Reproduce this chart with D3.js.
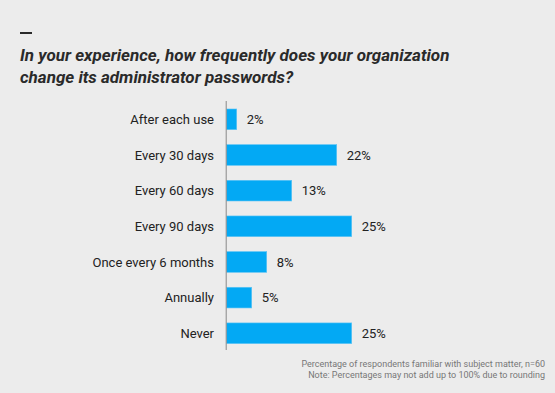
<!DOCTYPE html>
<html>
<head>
<meta charset="utf-8">
<script src="https://cdn.jsdelivr.net/npm/d3@7"></script>
<style>
  html, body { margin: 0; padding: 0; background: #ececec; }
  svg { display: block; font-family: Roboto, "Noto Sans", sans-serif; }
</style>
</head>
<body>
<div id="view"></div>
<script>
var width = 555, height = 393;

var categories = ["After each use", "Every 30 days", "Every 60 days", "Every 90 days",
                  "Once every 6 months", "Annually", "Never"];
var values = [2, 22, 13, 25, 8, 5, 25];
var titleLines = ["In your experience, how frequently does your organization",
                  "change its administrator passwords?"];
var notes = ["Percentage of respondents familiar with subject matter, n=60",
             "Note: Percentages may not add up to 100% due to rounding"];

var svg = d3.select("#view").append("svg")
  .attr("width", width)
  .attr("height", height);

svg.append("rect").attr("width", width).attr("height", height).attr("fill", "#ececec");

// small dash above title
svg.append("rect").attr("x", 20).attr("y", 32).attr("width", 12).attr("height", 2).attr("fill", "#2a2a2a");

svg.selectAll(".title")
  .data(titleLines).enter()
  .append("text")
  .attr("class", "title")
  .attr("x", 20)
  .attr("y", function(d, i) { return 61 + i * 22; })
  .style("font-size", "17px")
  .style("font-weight", "bold")
  .style("font-style", "italic")
  .style("fill", "#2a2a2a")
  .text(function(d) { return d; });

var x0 = 226.7;
var x = d3.scaleLinear().domain([0, 25]).range([x0, x0 + 125]);
var y = d3.scaleBand().domain(categories).range([101.5, 351.1])
  .paddingInner(0.42).paddingOuter(0.21);

svg.selectAll(".bar")
  .data(values).enter()
  .append("rect")
  .attr("class", "bar")
  .attr("x", x(0))
  .attr("y", function(d, i) { return y(categories[i]); })
  .attr("width", function(d) { return x(d) - x(0); })
  .attr("height", y.bandwidth())
  .style("fill", "#03a9f4")
  .style("stroke", "#5cc4f5")
  .style("stroke-width", 0.6);

svg.selectAll(".val")
  .data(values).enter()
  .append("text")
  .attr("class", "val")
  .attr("x", function(d) { return x(d) + 10; })
  .attr("y", function(d, i) { return y(categories[i]) + y.bandwidth() / 2; })
  .attr("dy", "0.35em")
  .style("font-size", "13px")
  .style("fill", "#222")
  .text(function(d) { return d + "%"; });

svg.selectAll(".cat")
  .data(categories).enter()
  .append("text")
  .attr("class", "cat")
  .attr("x", 214)
  .attr("y", function(d) { return y(d) + y.bandwidth() / 2; })
  .attr("dy", "0.35em")
  .attr("text-anchor", "end")
  .style("font-size", "13px")
  .style("fill", "#222")
  .text(function(d) { return d; });

// axis line
svg.append("line")
  .attr("x1", x0 - 0.5).attr("x2", x0 - 0.5)
  .attr("y1", 101).attr("y2", 350)
  .style("stroke", "#888")
  .style("stroke-width", 1);

svg.selectAll(".note")
  .data(notes).enter()
  .append("text")
  .attr("class", "note")
  .attr("x", 545)
  .attr("y", function(d, i) { return 367 + i * 11; })
  .attr("text-anchor", "end")
  .style("font-size", "9px")
  .style("fill", "#777")
  .text(function(d) { return d; });
</script>
</body>
</html>
